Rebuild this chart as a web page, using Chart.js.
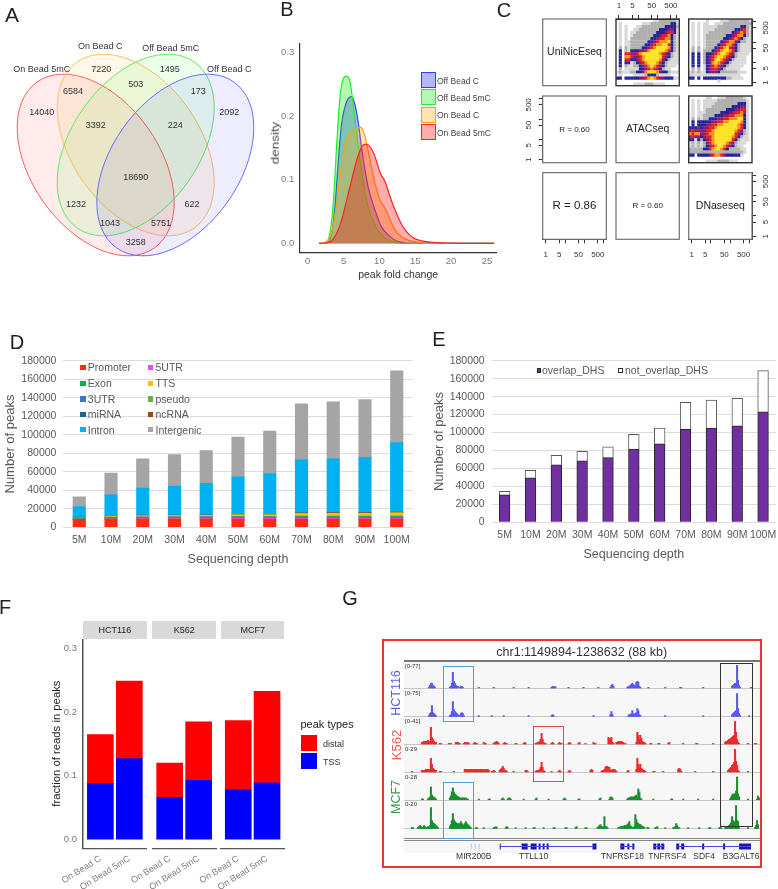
<!DOCTYPE html>
<html>
<head>
<meta charset="utf-8">
<title>Panels A-G</title>
<script src="https://cdn.jsdelivr.net/npm/chart.js@4/dist/chart.umd.min.js"></script>
<style>
  html, body { margin: 0; background: #fff; }
  #fig { position: relative; width: 778px; height: 889px; overflow: hidden; font-family: "Liberation Sans", Arial, sans-serif; filter: blur(0.3px); }
  #fig canvas { position: absolute; }
  #fig canvas.heat { filter: blur(0.6px); }
  .txt { position: absolute; line-height: 1; white-space: nowrap; }
  .box { position: absolute; box-sizing: border-box; }
</style>
</head>
<body>
<div id="fig"></div>
<script>
// ---- A: venn counts
const vennCounts = [14040, 7220, 1495, 2092, 6584, 503, 173, 3392, 224, 18690, 1232, 622, 1043, 5751, 3258];
const vennCountX = [41.7, 101.3, 169.7, 229.3, 73, 135.7, 198.3, 95.7, 175.3, 135.7, 76, 192, 110, 161, 135.7];
const vennCountY = [112.7, 69.3, 69.3, 112.7, 91.3, 85, 91.3, 125.7, 125.7, 177.3, 204.7, 204.7, 224, 224, 242.7];
const vennNames = ['On Bead 5mC', 'On Bead C', 'Off Bead 5mC', 'Off Bead C'];
const vennNameX = [41.7, 100.3, 170.7, 229.3];
const vennNameY = [69.3, 46.7, 48.7, 69.3];
const vennCenterX = [95.7, 135.7, 135.7, 175.3];
const vennCenterY = [165, 145, 145, 165];
const vennAngle = [54.8, 54.8, -54.8, -54.8];
const vennStroke = ['#ff5a5a', '#ffc060', '#60ea60', '#6a6aff'];
const vennFill = ['rgba(255,0,0,0.08)', 'rgba(255,165,0,0.09)', 'rgba(0,255,0,0.08)', 'rgba(0,0,255,0.07)'];

// ---- B: density curves, [fold change, density]
const densityNames = ['Off Bead C', 'Off Bead 5mC', 'On Bead C', 'On Bead 5mC'];
const densityColors = ['#3a3aff', '#22ee22', '#ff9f1a', '#ff2020'];
const densityFills = ['rgba(60,60,255,0.38)', 'rgba(0,230,0,0.3)', 'rgba(255,165,0,0.3)', 'rgba(255,0,0,0.32)'];
const offBeadC = [[1.6,0],[2.6,0.001],[3.35,0.016],[3.8,0.058],[4.28,0.131],[4.74,0.189],[5.2,0.215],[5.67,0.228],[6.14,0.231],[6.6,0.218],[7.07,0.189],[7.5,0.152],[8,0.115],[8.47,0.087],[8.93,0.068],[9.4,0.052],[10.3,0.026],[11.26,0.013],[12.2,0.005],[13.1,0.0015],[14.3,0],[26,0]];
const offBead5mC = [[1.6,0],[2.5,0.001],[3.1,0.016],[3.6,0.068],[4.05,0.157],[4.5,0.23],[5,0.26],[5.44,0.263],[5.9,0.254],[6.4,0.215],[6.84,0.173],[7.3,0.131],[7.8,0.094],[8.2,0.068],[8.7,0.047],[9.2,0.034],[9.6,0.024],[10.6,0.01],[11.5,0.004],[12.4,0.001],[13.4,0],[26,0]];
const onBeadC = [[1.6,0],[2.2,0.001],[2.65,0.003],[3.1,0.01],[3.6,0.031],[4.05,0.063],[4.5,0.105],[5,0.142],[5.44,0.163],[6.14,0.176],[6.74,0.179],[7.4,0.183],[8,0.168],[8.7,0.131],[9.4,0.094],[10.1,0.068],[10.8,0.055],[11.5,0.037],[12.2,0.021],[13.1,0.01],[14.3,0.004],[15.7,0.001],[18,0],[26,0]];
const onBead5mC = [[1.6,0],[2.6,0.001],[3.35,0.004],[4.05,0.016],[4.74,0.037],[5.44,0.068],[6.14,0.1],[6.84,0.131],[7.53,0.152],[8.1,0.156],[8.7,0.152],[9.4,0.136],[10.1,0.111],[10.8,0.097],[11.5,0.073],[12.2,0.052],[12.9,0.034],[13.8,0.018],[14.7,0.009],[15.9,0.004],[17.5,0.0015],[19.9,0.0005],[26,0]];

// ---- C: binned scatter density, one digit per cell (0 empty ... 7 highest)
const heatColors = [null, '#d8d8d8', '#b0b0b0', '#24249a', '#8c1a70', '#e61e1e', '#fa8c10', '#ffe21e'];
const heatAtac = ['0000000000000112222221','0100000001112222222331','0101000112222222233332','0101001122222223334431','0101011222222233345531','0101012222222334556321','0101022222223345566321','0101122222233456667321','0101122222334566775321','0202122223345677776321','0302133344567777765321','0305544567777776543211','0306654456777777543211','0305533456777776432111','0303312345677765321111','0302112234567654321110','0201111133456543211000','1211122334677764332111','0100001111233321111000','3303333344567654433311','0000000000000000000000','0000001111222111100000'];
const heatDnase = ['0000001000011122222221','0101011001112222222222','0101011111222222223321','0101011112222222334521','0101011222222223456521','0101012222222334566321','0101012222223345653211','0101012222234566432211','0101012222345665321111','0202012223456754321111','0202022234567765321111','0303023345677654211110','0303023456776543211100','0303023457765432111100','0303023467654321111100','0303013456543211111000','0202013455432111110000','1212113444322222211100','1111111111111111110000','3303033333333221111000','0000000000100000000000','0000000000000000000000'];
const heatAtacDnase = ['0000001100111222222100','0101011111222222222210','0101011112222222233310','0101011122222223334410','0101012222222333445510','0101112222233344556410','0101122223334455666310','0202122333445566677310','0303333344556677776310','0303334455667777765310','3334344556777777765310','4544445567777777654210','6566445667777777543210','4544345567777776532110','3313234567777775321110','1212124567777654211100','1212123456776543211000','2222233567765322221100','2222222222222222222100','3303333456654333331000','0000000000000000000000','0000001111222211100000'];
const pairTicks = [1, 5, 10, 50, 100, 500, 1000];
const pairLabels = [1, 5, 50, 500];

// ---- D / E: peaks by sequencing depth
const depths = ['5M', '10M', '20M', '30M', '40M', '50M', '60M', '70M', '80M', '90M', '100M'];
const promoter = [8700, 8800, 8900, 8900, 8900, 9000, 9000, 9000, 9000, 9000, 9000];
const utr5 = [300, 400, 500, 500, 500, 600, 600, 700, 700, 700, 700];
const exon = [1000, 1500, 1500, 1600, 1700, 1500, 1500, 2000, 2000, 2000, 2000];
const utr3 = [200, 300, 300, 400, 400, 400, 400, 500, 500, 500, 500];
const tts = [600, 1000, 1300, 1300, 1300, 1900, 1900, 2500, 2800, 2800, 3300];
const pseudo = [50, 50, 60, 60, 60, 70, 70, 80, 80, 80, 100];
const mirna = [20, 20, 20, 20, 20, 20, 20, 30, 30, 30, 30];
const ncrna = [300, 400, 500, 500, 500, 600, 600, 700, 700, 700, 700];
const intron = [11300, 22500, 29400, 31200, 34100, 40400, 43900, 57500, 58200, 59700, 75200];
const intergenic = [10500, 23500, 31500, 34000, 35500, 43000, 46000, 60500, 61500, 62500, 77500];
const overlapDHS = [30500, 49500, 64000, 68500, 72000, 81500, 87500, 103500, 105000, 107500, 123000];
const notOverlapDHS = [4000, 8500, 10500, 10500, 12000, 16500, 17500, 30000, 31000, 30500, 46000];

// ---- F: fraction of reads in peaks
const cellLines = ['HCT116', 'K562', 'MCF7'];
const beads = ['On Bead C', 'On Bead 5mC'];
const tssFraction = [[0.088, 0.127], [0.066, 0.093], [0.078, 0.089]];
const distalFraction = [[0.077, 0.122], [0.054, 0.092], [0.109, 0.144]];

// ---- G: browser tracks, each run is [first bin, height, height, ...]
const trackRanges = ['[0-77]', '[0-75]', '[0-41]', '0-29', '0-28', '0-20'];
const hct1 = [[25,1,3,5,5,3,2,1],[46,1,2,5,16,7,5,3,2,2],[56,1,2,2,1],[75,1],[90,1],[110,1],[125,1],[148,1,2,1,2,1],[165,1],[180,1],[195,1],[207,1,3,4,2],[224,1,2,2,3,4,5,4,2,3,6,7,6,2,1],[245,1],[262,1],[277,1,1],[300,1],[329,2,3,4,5,5,23,8,3,1],[348,1]];
const hct2 = [[25,1,3,4,11,4,3,2,1],[46,1,2,5,15,7,5,4,3,2],[56,1,3,4,3,1],[75,1],[88,1],[100,1],[125,1],[148,1,2,1],[190,1],[207,2,5,2],[225,1,2,2,3,6,3,2,3,4,8,6,2,1],[262,1],[300,1],[329,2,3,4,5,6,23,8,3,1],[346,1]];
const k5621 = [[18,2,2,3,2,3,3,4,3,3,17,7,5,3,2,2],[36,1,1],[45,1,1,1],[52,2,1,2,1,1],[60,1,2,2,1,2,1],[70,1,2,1,1],[80,2,1,1],[90,1,2,2,3,2,1],[100,1,2,1,1],[112,1,1],[120,1,2,1],[132,1,1,2,2,3,5,11,5,2,1,1],[148,1,2,1],[155,1,2,1,1],[165,1,2,1],[175,1,2],[182,1],[190,2,1,1],[205,7,6,5,7,2,1],[213,2,2,3,3,3,3,2,2],[222,1],[233,2,12,9,5,9,6,3,2,2,1],[247,1,1],[255,1,1],[265,1,2],[280,1],[293,1,1],[310,1],[322,2,3,3,4,5,5,6,7,8,9,23,12,5,2,1],[345,1],[352,1,1]];
const k5622 = [[8,1],[18,2,2,1,2,3,3,2,3,3,14,8,4,3,2,2],[36,1,1],[50,1],[61,3,3,3,3,2,3,3,3,3,2,3,3,3,3,2,3,3,3,3,2,3,2,3,3,2],[88,1,1,2,1],[96,2,3,4,6,4,2,2,1],[110,1],[122,2,2,1],[132,1,2,1,2,3,5,10,5,2,1],[148,1],[155,1,2,1],[165,1,2,1],[187,2,3,2],[198,1,2,2,3,5,6,6,5,5,2,2,3,2,3,2,1],[224,1,2],[233,3,14,8,5,8,4,3,2,2,1],[250,1,1],[260,1],[275,3,4,3,1],[292,1],[310,1],[325,2,3,4,5,7,8,10,23,11,7,2,1],[345,1]];
const mcf1 = [[18,1,1],[24,1,2,3,13,5,3,3,2,1],[46,2,4,8,12,8,6,5,4,3,3,2,2,2,2,2,2,2,1,1],[75,1],[85,1,1],[98,1,2,1],[104,1,2,2,1],[120,1],[132,1,2],[145,1],[160,1,2,1],[175,1,1],[196,1,2],[206,1,3,3,2],[224,1,2,2,3,3,3,3,3,4,5,3,11,8,2,1],[250,1],[268,1,1],[280,1],[295,1],[310,1],[327,1,3,5,6,6,6,9,23,6,3],[345,1],[354,1,4,2]];
const mcf2 = [[8,1,1],[14,1,2,3,2,1,1,3,2,1,1,2,1,3,21,8,6,5,4,3,2,1],[46,2,4,8,15,9,7,6,5,5,5,4,7,5,4,3,5,7,5,4,3,2,1],[72,1,1],[80,1],[90,1,1,2,1],[102,1,2,1],[112,1],[122,1],[130,1,1],[140,1],[150,1,1],[162,1,1],[172,1,2],[182,1,1],[194,1,2,3,4,2,1,2,12,2,2,1],[215,1,1,2,2,2,2,3,3,3,4,5,7,3,2,1,1,2,14,9,6,5,4,4,3,2,2,1],[244,1,1],[252,1,1,2],[262,1],[270,1,1,2,5,3,1,1],[285,1],[296,1],[306,1,1],[316,1,1,1],[322,1,2,2,2,3,4,6,12,8,5,7,23,8,7,1],[345,1],[352,1,3,8,4]];
const geneNames = ['MIR200B', 'TTLL10', 'TNFRSF18', 'TNFRSF4', 'SDF4', 'B3GALT6'];
const geneBins = [70, 130, 219, 264, 301, 338];
const geneLines = [[96,191], [217,231], [250,261], [273,320], [320,348]];
const geneExons = [[96,97],[118,124],[127,133],[135,137],[139,141],[143,145],[189,193],[217,221],[224,226],[229,231],[250,253],[254,257],[258,261],[273,276],[278,281],[299,301],[320,322],[336,348]];
const mirExons = [[67,67.6],[71,71.6],[75,75.6]];

Chart.defaults.font.family = '"Liberation Sans", Arial, sans-serif';
Chart.defaults.animation = false;
Chart.defaults.responsive = false;
Chart.defaults.plugins.legend.display = false;
Chart.defaults.plugins.tooltip.enabled = false;

const fig = document.getElementById('fig');

function label(text, x, y, o = {}) {
  const el = document.createElement('div');
  el.className = 'txt';
  el.textContent = text;
  el.style.left = x + 'px';
  el.style.top = y + 'px';
  el.style.fontSize = (o.size || 10) + 'px';
  el.style.color = o.color || '#222';
  const shift = o.anchor === 'left' ? 'translate(0,-50%)' : 'translate(-50%,-50%)';
  el.style.transform = shift + (o.rotate ? ` rotate(${o.rotate}deg)` : '') + (o.stretch ? ` scaleX(${o.stretch})` : '');
  fig.appendChild(el);
}

function box(x0, y0, x1, y1, css) {
  const el = document.createElement('div');
  el.className = 'box';
  el.style.left = x0 + 'px';
  el.style.top = y0 + 'px';
  el.style.width = (x1 - x0) + 'px';
  el.style.height = (y1 - y0) + 'px';
  Object.assign(el.style, css);
  fig.appendChild(el);
}

// puts a chart on the page so its plot area lands exactly on plot
function mount(plot, m, cfg, cls) {
  const left = Math.floor(plot.x0 - m.l), top = Math.floor(plot.y0 - m.t);
  const right = Math.ceil(plot.x1 + m.r), bottom = Math.ceil(plot.y1 + m.b);
  const canvas = document.createElement('canvas');
  canvas.width = right - left;
  canvas.height = bottom - top;
  canvas.style.left = left + 'px';
  canvas.style.top = top + 'px';
  if (cls) canvas.className = cls;
  fig.appendChild(canvas);
  const sides = { left: plot.x0 - left, right: right - plot.x1, top: plot.y0 - top, bottom: bottom - plot.y1 };
  const pad = { ...sides };
  Object.entries(cfg.options.scales).forEach(([id, s]) => {
    if (s.display === false) return;
    const pos = s.position || (id[0] === 'x' ? 'bottom' : 'left');
    pad[pos] = 0;
    s.afterFit = (a) => {
      if (a.isHorizontal()) a.height = sides[pos]; else a.width = sides[pos];
      // label overhang would push the plot area in
      a.paddingLeft = a.paddingRight = a.paddingTop = a.paddingBottom = 0;
    };
  });
  cfg.options.layout = { padding: pad, autoPadding: false };
  return new Chart(canvas.getContext('2d'), cfg);
}

const setTicks = (values) => (s) => { s.ticks = values.map((value) => ({ value })); };

// ---- panel letters
label('A', 12, 14, { size: 21 });
label('B', 287, 9, { size: 20 });
label('C', 504, 10, { size: 20 });
label('D', 17, 342, { size: 20 });
label('E', 439, 339, { size: 20 });
label('F', 5, 607, { size: 20 });
label('G', 350, 598, { size: 20 });

// ---- A
const vennPlugin = {
  id: 'venn',
  beforeDatasetsDraw(chart) {
    const { ctx, scales: { x, y } } = chart;
    vennCenterX.forEach((cx, i) => {
      ctx.beginPath();
      ctx.ellipse(x.getPixelForValue(cx), y.getPixelForValue(vennCenterY[i]), 101.6, 64, vennAngle[i] * Math.PI / 180, 0, Math.PI * 2);
      ctx.fillStyle = vennFill[i];
      ctx.fill();
      ctx.strokeStyle = vennStroke[i];
      ctx.lineWidth = 1;
      ctx.stroke();
    });
    ctx.fillStyle = '#333';
    ctx.textAlign = 'center';
    ctx.textBaseline = 'middle';
    ctx.font = '9px "Liberation Sans"';
    chart.getDatasetMeta(0).data.forEach((p, i) => ctx.fillText(vennCounts[i], p.x, p.y));
    chart.getDatasetMeta(1).data.forEach((p, i) => ctx.fillText(vennNames[i], p.x, p.y));
  }
};
mount({ x0: 0, y0: 0, x1: 270, y1: 300 }, { l: 0, t: 0, r: 0, b: 0 }, {
  type: 'scatter',
  data: {
    datasets: [
      { data: vennCounts.map((c, i) => ({ x: vennCountX[i], y: vennCountY[i] })), pointRadius: 0 },
      { data: vennNames.map((c, i) => ({ x: vennNameX[i], y: vennNameY[i] })), pointRadius: 0 }
    ]
  },
  options: {
    scales: {
      x: { display: false, min: 0, max: 270 },
      y: { display: false, min: 0, max: 300, reverse: true }
    }
  },
  plugins: [vennPlugin]
});

// ---- B
const densitySeries = [offBeadC, offBead5mC, onBeadC, onBead5mC];
mount({ x0: 299.3, y0: 43.3, x1: 497, y1: 252.3 }, { l: 22, t: 0, r: 0, b: 28 }, {
  type: 'scatter',
  data: {
    datasets: densitySeries.map((s, i) => ({
      label: densityNames[i],
      data: s.map((p) => ({ x: p[0], y: p[1] })),
      showLine: true,
      pointRadius: 0,
      borderWidth: 1.2,
      borderColor: densityColors[i],
      backgroundColor: densityFills[i],
      fill: 'origin',
      cubicInterpolationMode: 'monotone',
      order: 4 - i
    }))
  },
  options: {
    scales: {
      x: {
        type: 'linear', min: -1.17, max: 26.4,
        afterBuildTicks: setTicks([0, 5, 10, 15, 20, 25]),
        grid: { display: false, drawTicks: true, tickLength: 3, color: '#555' },
        border: { color: '#333', width: 1.2 },
        ticks: { color: '#7a7a7a', font: { size: 9.5 }, padding: 0, maxRotation: 0, callback: (v) => v },
        title: { display: true, text: 'peak fold change', color: '#333', font: { size: 10.5 }, padding: { top: 0, bottom: 0 } }
      },
      y: {
        type: 'linear', min: -0.014, max: 0.3147,
        afterBuildTicks: setTicks([0, 0.1, 0.2, 0.3]),
        grid: { display: false, drawTicks: true, tickLength: 3, color: '#555' },
        border: { color: '#333', width: 1.2 },
        ticks: { color: '#7a7a7a', font: { size: 9.5 }, padding: 2, callback: (v) => v.toFixed(1) }
      }
    }
  }
});
label('density', 275, 143, { size: 10.5, rotate: -90, stretch: 1.28, color: '#444' });
densityNames.forEach((name, i) => {
  const y = [72.3, 89.3, 106.5, 124][i];
  box(420.7, y, 436, y + 16, { background: densityFills[i], border: '1.3px solid ' + densityColors[i] });
  label(name, 437, y + 8.5, { size: 8.5, anchor: 'left', color: '#444' });
});

// ---- C
const pairCols = [[542.7, 606.3], [616, 679.3], [688.7, 752]];
const pairRows = [[19, 85.7], [96, 162.7], [172.7, 239.3]];
const pairCells = [
  { col: 0, row: 0, text: 'UniNicEseq', size: 10.5 },
  { col: 1, row: 0, heat: heatAtac, axes: ['top'] },
  { col: 2, row: 0, heat: heatDnase, axes: ['right'] },
  { col: 0, row: 1, text: 'R = 0.60', size: 8, axes: ['left'] },
  { col: 1, row: 1, text: 'ATACseq', size: 10.5 },
  { col: 2, row: 1, heat: heatAtacDnase },
  { col: 0, row: 2, text: 'R = 0.86', size: 11.5, axes: ['bottom'] },
  { col: 1, row: 2, text: 'R = 0.60', size: 8 },
  { col: 2, row: 2, text: 'DNaseseq', size: 10.5, axes: ['right', 'bottom'] }
];
const logAxis = (pos) => {
  const vertical = pos === 'left' || pos === 'right';
  return {
    type: 'logarithmic',
    position: pos,
    min: 0.74,
    max: 1370,
    afterBuildTicks: setTicks(pairTicks),
    grid: { drawOnChartArea: false, drawTicks: true, tickLength: 4, color: '#333' },
    border: { color: '#333' },
    ticks: {
      autoSkip: false,
      color: '#333',
      font: { size: 8 },
      padding: pos === 'top' ? 4 : pos === 'bottom' ? 7 : 3,
      maxRotation: vertical ? 90 : 0,
      minRotation: vertical ? 90 : 0,
      crossAlign: vertical ? 'center' : 'near',
      callback: (v) => (pairLabels.includes(v) ? v : '')
    }
  };
};
const pairFrame = {
  id: 'pairFrame',
  afterDraw(chart) {
    const { ctx, chartArea: a } = chart;
    const o = chart.options.plugins.pairFrame;
    ctx.strokeStyle = o.heat ? '#333' : '#707070';
    ctx.lineWidth = o.heat ? 1.4 : 1.2;
    ctx.strokeRect(a.left, a.top, a.right - a.left, a.bottom - a.top);
    if (o.text) {
      ctx.fillStyle = '#222';
      ctx.textAlign = 'center';
      ctx.textBaseline = 'middle';
      ctx.font = o.size + 'px "Liberation Sans"';
      ctx.fillText(o.text, (a.left + a.right) / 2, (a.top + a.bottom) / 2);
    }
  }
};
pairCells.forEach((cell) => {
  const plot = { x0: pairCols[cell.col][0], x1: pairCols[cell.col][1], y0: pairRows[cell.row][0], y1: pairRows[cell.row][1] };
  const margins = { l: 22, t: 18, r: 22, b: 20 };
  const gridScales = () => ({
    x: { display: false, type: 'linear', min: 0, max: 22 },
    y: { display: false, type: 'linear', min: 0, max: 22, reverse: true }
  });
  // cells get their own softened canvas, the frame and ticks stay crisp on top
  if (cell.heat) {
    const points = [], colors = [];
    cell.heat.forEach((row, r) => {
      [...row].forEach((v, c) => {
        if (v !== '0') {
          points.push({ x: c + 0.5, y: r + 0.5 });
          colors.push(heatColors[+v]);
        }
      });
    });
    mount(plot, margins, {
      type: 'scatter',
      data: { datasets: [{ data: points, pointStyle: 'rect', pointRadius: 2.25, pointBorderWidth: 0, pointBackgroundColor: colors }] },
      options: { scales: gridScales() }
    }, 'heat');
  }
  const scales = gridScales();
  (cell.axes || []).forEach((pos) => {
    scales[(pos === 'left' || pos === 'right' ? 'y' : 'x') + 'Log'] = logAxis(pos);
  });
  mount(plot, margins, {
    type: 'scatter',
    data: { datasets: [] },
    options: { scales, plugins: { pairFrame: { heat: !!cell.heat, text: cell.text, size: cell.size } } },
    plugins: [pairFrame]
  });
});

// ---- D
const dNames = ['Promoter', 'Exon', '3UTR', 'miRNA', 'Intron', '5UTR', 'TTS', 'pseudo', 'ncRNA', 'Intergenic'];
const dColors = ['#ff2a12', '#00b050', '#4472c4', '#255e91', '#00b0f0', '#ff40ff', '#ffc000', '#70ad47', '#9e480e', '#a5a5a5'];
const dValues = [promoter, exon, utr3, mirna, intron, utr5, tts, pseudo, ncrna, intergenic];
const dStackOrder = ['Promoter', '5UTR', 'Exon', '3UTR', 'TTS', 'pseudo', 'miRNA', 'ncRNA', 'Intron', 'Intergenic'];
const depthAxes = (barTitleColor) => ({
  x: {
    stacked: true,
    grid: { display: false, drawTicks: false },
    border: { display: false },
    ticks: { color: barTitleColor, font: { size: 10.5 }, padding: 7, autoSkip: false, maxRotation: 0 },
    title: { display: true, text: 'Sequencing depth', color: barTitleColor, font: { size: 12.5 }, padding: { top: 0, bottom: 3 } }
  },
  y: {
    stacked: true, min: 0, max: 180000,
    grid: { color: '#dcdcdc', drawTicks: false },
    border: { display: false },
    ticks: { color: barTitleColor, font: { size: 10.5 }, padding: 7, stepSize: 20000, callback: (v) => v },
    title: { display: true, text: 'Number of peaks', color: barTitleColor, font: { size: 13 }, padding: { top: 3, bottom: 0 } }
  }
});
mount({ x0: 63.4, y0: 360.7, x1: 412.6, y1: 527.3 }, { l: 63.4, t: 8, r: 0, b: 42 }, {
  type: 'bar',
  data: {
    labels: depths,
    datasets: dStackOrder.map((name) => {
      const i = dNames.indexOf(name);
      return { label: name, data: dValues[i], backgroundColor: dColors[i], barThickness: 12.5 };
    })
  },
  options: { scales: depthAxes('#595959') }
});
dNames.forEach((name, i) => {
  const col = i < 5 ? 0 : 1;
  const y = [367.3, 383.3, 399, 414.3, 429.7][i % 5];
  const x = col ? 147.7 : 80;
  box(x, y - 2.8, x + 5.5, y + 2.8, { background: dColors[i] });
  label(name, x + 7.8, y, { size: 10.5, anchor: 'left', color: '#595959' });
});

// ---- E
mount({ x0: 491.7, y0: 360.7, x1: 776, y1: 522.3 }, { l: 62.7, t: 8, r: 0, b: 42 }, {
  type: 'bar',
  data: {
    labels: depths,
    datasets: [
      { label: 'overlap_DHS', data: overlapDHS, backgroundColor: '#7030a0', borderColor: '#262626', borderWidth: 1, barThickness: 10.7 },
      { label: 'not_overlap_DHS', data: notOverlapDHS, backgroundColor: '#fff', borderColor: '#595959', borderWidth: 1, barThickness: 10.7 }
    ]
  },
  options: { scales: depthAxes('#595959') }
});
box(536.7, 367.5, 541.5, 373, { background: '#7030a0', border: '1px solid #262626' });
label('overlap_DHS', 542, 370.3, { size: 10.5, anchor: 'left', color: '#595959' });
box(618, 367.5, 623, 373, { background: '#fff', border: '1px solid #333' });
label('not_overlap_DHS', 625, 370.3, { size: 10.5, anchor: 'left', color: '#595959' });

// ---- F
const facetX = [[83, 146.7], [152.3, 216], [221, 284.3]];
cellLines.forEach((line, f) => {
  box(facetX[f][0], 621, facetX[f][1], 639, { background: '#d9d9d9' });
  label(line, (facetX[f][0] + facetX[f][1]) / 2, 630.3, { size: 9, color: '#222' });
  const scales = {
    x: {
      type: 'linear', min: 0.4, max: 2.6, stacked: true, offset: false,
      afterBuildTicks: setTicks([1, 2]),
      grid: { display: false, drawTicks: true, tickLength: 3, color: '#555' },
      border: { color: '#555', width: 1.2 },
      ticks: { color: '#808080', font: { size: 9 }, padding: 2, autoSkip: false, minRotation: 32, maxRotation: 32, callback: (v) => beads[v - 1] }
    },
    y: {
      display: f === 0,
      type: 'linear', min: -0.0142, max: 0.3154, stacked: true,
      afterBuildTicks: setTicks([0, 0.1, 0.2, 0.3]),
      grid: { display: false, drawTicks: true, tickLength: 3, color: '#555' },
      border: { color: '#555', width: 1.5 },
      ticks: { color: '#777', font: { size: 9.5 }, padding: 3, callback: (v) => v.toFixed(1) },
      title: { display: true, text: 'fraction of reads in peaks', color: '#222', font: { size: 11.3 }, padding: { top: 5, bottom: 0 } }
    }
  };
  mount({ x0: facetX[f][0], x1: facetX[f][1], y0: 639, y1: 848.3 }, { l: 38, t: 0, r: 4, b: 40 }, {
    type: 'bar',
    data: {
      datasets: [
        { label: 'TSS', data: tssFraction[f].map((v, i) => ({ x: i + 1, y: v })), backgroundColor: '#0000ff', barThickness: 26 },
        { label: 'distal', data: distalFraction[f].map((v, i) => ({ x: i + 1, y: v })), backgroundColor: '#ff0000', barThickness: 26 }
      ]
    },
    options: { scales }
  });
});
label('peak types', 300.5, 724, { size: 11, anchor: 'left', color: '#222' });
box(301, 735, 316.7, 751, { background: '#ff0000' });
box(301, 753, 316.7, 769, { background: '#0000ff' });
label('distal', 323, 743.5, { size: 9, anchor: 'left', color: '#333' });
label('TSS', 323, 761.5, { size: 9, anchor: 'left', color: '#333' });

// ---- G
const trackData = [hct1, hct2, k5621, k5622, mcf1, mcf2];
const trackBase = [688.3, 716.7, 744.3, 772.3, 800, 828.7];
const trackColors = ['#5a5af0', '#5a5af0', '#ee2a2a', '#ee2a2a', '#1a8f2f', '#1a8f2f'];
const trackRangeY = [666, 693, 721.3, 749.3, 777.3, 804];
const expandRuns = (runs) => runs.flatMap((r) => r.slice(1).map((h, i) => ({ x: r[0] + i, y: h })));
const segments = (pairs) => pairs.flatMap((p) => [{ x: p[0], y: 0.5 }, { x: p[1], y: 0.5 }, { x: p[1], y: null }]);

box(382.3, 639.3, 761.7, 868, { border: '2px solid #ee3333' });
label('chr1:1149894-1238632 (88 kb)', 581.7, 652, { size: 12.5, color: '#333' });
box(404, 660.7, 760, 853, { background: '#f7f7f7' });
box(404, 659.6, 760, 661.6, { background: '#777' });
box(404, 838.2, 760, 839.2, { background: '#888' });
box(404, 840.2, 760, 841.2, { background: '#888' });
label('HCT116', 396, 693, { size: 12.5, rotate: -90, color: '#5b5be0' });
label('K562', 396, 744.7, { size: 13, rotate: -90, color: '#ef5a4a' });
label('MCF7', 396, 797.3, { size: 12.5, rotate: -90, color: '#3a9a4a' });

trackData.forEach((runs, i) => {
  mount({ x0: 404, x1: 760, y0: trackBase[i] - 26, y1: trackBase[i] }, { l: 0, t: 0, r: 0, b: 1 }, {
    type: 'bar',
    data: { datasets: [{ data: expandRuns(runs), backgroundColor: trackColors[i], barThickness: 1.4 }] },
    options: {
      scales: {
        x: { type: 'linear', min: 0, max: 357, offset: false, grid: { display: false }, ticks: { display: false }, border: { color: '#c4c4c4' } },
        y: { display: false, min: 0, max: 26 }
      }
    }
  });
  label(trackRanges[i], 405, trackRangeY[i], { size: 6, anchor: 'left', color: '#333' });
});

mount({ x0: 404, x1: 760, y0: 841, y1: 852 }, { l: 0, t: 0, r: 6, b: 10 }, {
  type: 'scatter',
  data: {
    datasets: [
      { data: segments(mirExons), showLine: true, pointRadius: 0, borderColor: '#9a9af0', borderWidth: 6, borderCapStyle: 'butt' },
      { data: segments(geneLines), showLine: true, pointRadius: 0, borderColor: '#4a4ae0', borderWidth: 1 },
      { data: segments(geneExons), showLine: true, pointRadius: 0, borderColor: '#1616b8', borderWidth: 6, borderCapStyle: 'butt' }
    ]
  },
  options: {
    scales: {
      x: {
        type: 'linear', min: 0, max: 357,
        afterBuildTicks: setTicks(geneBins),
        grid: { display: false, drawTicks: false },
        border: { display: false },
        ticks: { color: '#333', font: { size: 8.5 }, padding: 0, autoSkip: false, maxRotation: 0, callback: (v) => geneNames[geneBins.indexOf(v)] }
      },
      y: { display: false, min: 0, max: 1 }
    }
  }
});

box(443.3, 666.3, 473.7, 722.3, { border: '1px solid #4aa0e0' });
box(443.3, 782.3, 473.7, 839.3, { border: '1px solid #4aa0e0' });
box(533.3, 726.3, 564.3, 782.3, { border: '1px solid #ee4444' });
box(719.7, 663.3, 752.7, 827.3, { border: '1px solid #333' });
</script>
</body>
</html>
